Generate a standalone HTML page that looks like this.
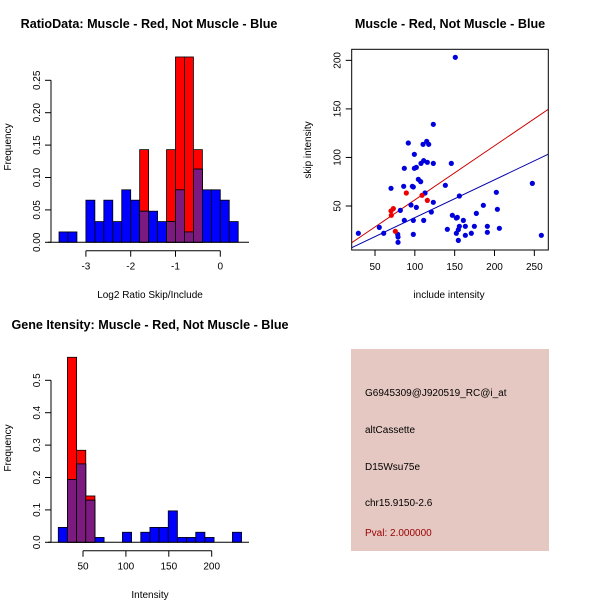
<!DOCTYPE html>
<html><head><meta charset="utf-8"><style>
html,body{margin:0;padding:0;background:#fff}
svg{display:block;font-family:"Liberation Sans",sans-serif}
</style></head><body>
<svg id="c" width="600" height="600" xmlns="http://www.w3.org/2000/svg"></svg>
<script>
// Ratio histogram data
const ratioBreaks = [-3.6,-3.4,-3.2,-3.0,-2.8,-2.6,-2.4,-2.2,-2.0,-1.8,-1.6,-1.4,-1.2,-1.0,-0.8,-0.6,-0.4,-0.2,0,0.2,0.4];
const ratioBlue = [0.016,0.016,0,0.065,0.032,0.065,0.032,0.081,0.065,0.048,0.048,0.032,0.032,0.081,0.016,0.113,0.081,0.081,0.065,0.032];
const ratioRed  = [0,0,0,0,0,0,0,0,0,0.143,0,0,0.143,0.286,0.286,0.143,0,0,0,0];
const ratioXTicks = [-3,-2,-1,0];
const ratioYTicks = [0,0.05,0.10,0.15,0.20,0.25];
const ratioYTickLabels = ["0.00","0.05","0.10","0.15","0.20","0.25"];
// Intensity histogram data
const intStart = 21.2, intWidth = 10.68;
const intBlue = [0.046,0.194,0.242,0.13,0.015,0,0,0.031,0,0.031,0.046,0.046,0.097,0.015,0.015,0.031,0.015,0,0,0.031];
const intRed  = [0,0.571,0.284,0.143,0,0,0,0,0,0,0,0,0,0,0,0,0,0,0,0];
const intXTicks = [50,100,150,200];
const intYTicks = [0,0.1,0.2,0.3,0.4,0.5];
const intYTickLabels = ["0.0","0.1","0.2","0.3","0.4","0.5"];
// Scatter data
const blueX = [29.1,55.4,60.9,70.1,78.5,78.9,78.9,81.8,86,86.8,86.8,91.8,95.2,96.9,98.1,98.1,98.1,99.4,99.4,101.9,101.9,104.4,107.3,107.7,110.3,111.1,111.1,112.8,114.9,115.7,117.4,120.7,123.2,123.2,123.2,138.3,140.8,145.8,147.1,150.8,152.1,152.1,153.3,154.6,154.6,155.9,155.9,160.9,163.4,163.4,170.9,174.7,177.2,186,191,191,202.3,203.6,206.1,247.5,258.8];
const blueY = [21.9,28,21.9,68.2,20.8,18.1,12.6,45.5,70.3,88.8,35.2,114.9,51,70.3,69.6,35.2,20.8,103.2,88.8,89.8,48.6,77.5,75.1,93.9,113.5,96.7,35.2,63.4,116.6,95,113.5,43.8,134.1,93.9,53.8,71.3,26,93.9,40.4,203.1,37.6,21.9,38.3,25.6,14.6,60.3,29.1,35.2,29.1,19.8,21.9,29.1,42.4,50.7,29.1,22.9,64.1,46.6,27,73.3,19.8];
const redX = [70.5,70.1,73,75.5,89.3,109,115.7];
const redY = [40.4,44.9,47.3,23.9,63.4,61,55.8];
const redFit = [0.6,0.557];
const blueFit = [-1.0,0.39];
const scXTicks = [50,100,150,200,250];
const scYTicks = [50,100,150,200];

const svg = document.getElementById('c');
const NS = 'http://www.w3.org/2000/svg';
function mk(tag, attrs, parent){const e=document.createElementNS(NS,tag);for(const k in attrs)e.setAttribute(k,attrs[k]);(parent||svg).appendChild(e);return e;}
function txt(s, attrs, parent){const e=mk('text',attrs,parent);e.textContent=s;return e;}
const PURPLE='#7d1a80';

function hist(g, edges, blue, red, xs, ys){
  for(let i=0;i<blue.length;i++){
    const x0=xs(edges[i]), x1=xs(edges[i+1]);
    const r=red[i], b=blue[i], m=Math.min(r,b);
    if(r>0){const e=mk('rect',{x:x0,y:ys(r),width:x1-x0,height:ys(0)-ys(r),fill:'#ff0000',stroke:'#000','stroke-width':0.8},g);
      }
    if(b>0){const e=mk('rect',{x:x0,y:ys(b),width:x1-x0,height:ys(0)-ys(b),fill:r>b?'none':'#0000ff',stroke:'#000','stroke-width':0.8},g);
      }
    if(m>0){const e=mk('rect',{x:x0,y:ys(m),width:x1-x0,height:ys(0)-ys(m),fill:PURPLE,stroke:'#000','stroke-width':0.8},g);
      }
  }
}
function yAxis(g, x, ticks, labels, ys){
  mk('line',{x1:x,x2:x,y1:ys(ticks[0]),y2:ys(ticks[ticks.length-1]),stroke:'#000'},g);
  ticks.forEach((t,i)=>{const y=ys(t);mk('line',{x1:x-6,x2:x,y1:y,y2:y,stroke:'#000'},g);
    txt(labels[i],{x:0,y:0,transform:`translate(${x-11},${y}) rotate(-90)`,'text-anchor':'middle','font-size':10},g);});
}
function xAxis(g, y, ticks, labels, xs){
  mk('line',{x1:xs(ticks[0]),x2:xs(ticks[ticks.length-1]),y1:y,y2:y,stroke:'#000'},g);
  ticks.forEach((t,i)=>{const x=xs(t);mk('line',{x1:x,x2:x,y1:y,y2:y+6,stroke:'#000'},g);
    txt(labels[i],{x:x,y:y+19,'text-anchor':'middle','font-size':10},g);});
}

// Panel 1
{
  const g=mk('g',{});
  const xs=v=>220.3+(v-0)*44.8, ys=v=>242.3-v*648;
  txt('RatioData: Muscle - Red, Not Muscle - Blue',{x:149,y:28,'text-anchor':'middle','font-size':12.6,'font-weight':'bold'},g);
  hist(g,ratioBreaks,ratioBlue,ratioRed,xs,ys);
  mk('line',{x1:48,x2:249,y1:242.3,y2:242.3,stroke:'#000'},g);
  yAxis(g,51,ratioYTicks,ratioYTickLabels,ys);
  xAxis(g,250.7,ratioXTicks,ratioXTicks.map(String),xs);
  txt('Frequency',{transform:'translate(11,147) rotate(-90)','text-anchor':'middle','font-size':10},g);
  txt('Log2 Ratio Skip/Include',{x:150,y:298,'text-anchor':'middle','font-size':10},g);
}
// Panel 2 scatter
{
  const g=mk('g',{});
  const xs=v=>375+(v-50)*0.7967, ys=v=>206-(v-50)*0.971;
  txt('Muscle - Red, Not Muscle - Blue',{x:450,y:28,'text-anchor':'middle','font-size':12.6,'font-weight':'bold'},g);
  const L=351.7,R=548.3,T=49.3,B=250;
  const cp=mk('clipPath',{id:'cp'},g);mk('rect',{x:L,y:T,width:R-L,height:B-T},cp);
  const inner=mk('g',{'clip-path':'url(#cp)'},g);
  const dl=v=>(v-375)/0.7967+50;
  [[redFit,'#cc0000','red-fit-line'],[blueFit,'#0000aa','blue-fit-line']].forEach(([f,c,n])=>{
    const xa=dl(L),xb=dl(R);
    const e=mk('line',{x1:L,x2:R,y1:ys(f[0]+f[1]*xa),y2:ys(f[0]+f[1]*xb),stroke:c,'stroke-width':1},inner);
    
  });
  blueX.forEach((x,i)=>{const e=mk('circle',{cx:xs(x),cy:ys(blueY[i]),r:2.6,fill:'#0000dd'},inner);
    });
  redX.forEach((x,i)=>{const e=mk('circle',{cx:xs(x),cy:ys(redY[i]),r:2.6,fill:'#ee0000'},inner);
    });
  mk('rect',{x:L,y:T,width:R-L,height:B-T,fill:'none',stroke:'#000'},g);
  scXTicks.forEach(t=>{const x=xs(t);mk('line',{x1:x,x2:x,y1:B,y2:B+6,stroke:'#000'},g);
    txt(String(t),{x:x,y:B+20,'text-anchor':'middle','font-size':10},g);});
  scYTicks.forEach(t=>{const y=ys(t);mk('line',{x1:L-6,x2:L,y1:y,y2:y,stroke:'#000'},g);
    txt(String(t),{transform:`translate(${L-11},${y}) rotate(-90)`,'text-anchor':'middle','font-size':10},g);});
  txt('skip intensity',{transform:'translate(311,150) rotate(-90)','text-anchor':'middle','font-size':10},g);
  txt('include intensity',{x:449,y:298,'text-anchor':'middle','font-size':10},g);
}
// Panel 3
{
  const g=mk('g',{});
  const xs=v=>83+(v-50)*0.858, ys=v=>542.3-v*324;
  const edges=[];for(let i=0;i<=intBlue.length;i++)edges.push(intStart+i*intWidth);
  txt('Gene Itensity: Muscle - Red, Not Muscle - Blue',{x:150,y:329,'text-anchor':'middle','font-size':12.6,'font-weight':'bold'},g);
  hist(g,edges,intBlue,intRed,xs,ys);
  mk('line',{x1:48,x2:249,y1:542.3,y2:542.3,stroke:'#000'},g);
  yAxis(g,51,intYTicks,intYTickLabels,ys);
  xAxis(g,550.7,intXTicks,intXTicks.map(String),xs);
  txt('Frequency',{transform:'translate(11,448) rotate(-90)','text-anchor':'middle','font-size':10},g);
  txt('Intensity',{x:150,y:598,'text-anchor':'middle','font-size':10},g);
}
// Panel 4 info box
{
  const g=mk('g',{});
  mk('rect',{x:351,y:349,width:198,height:202,fill:'#e6c8c2'},g);
  const lines=[['G6945309@J920519_RC@i_at',396,'#000','probe-id'],['altCassette',433,'#000','event-type'],['D15Wsu75e',470,'#000','gene-name'],['chr15.9150-2.6',506,'#000','location'],['Pval: 2.000000',536,'#990000','p-value']];
  lines.forEach(([s,y,c,n])=>{const e=txt(s,{x:365,y:y,'font-size':10,fill:c},g);
    });
}
</script>
</body></html>
